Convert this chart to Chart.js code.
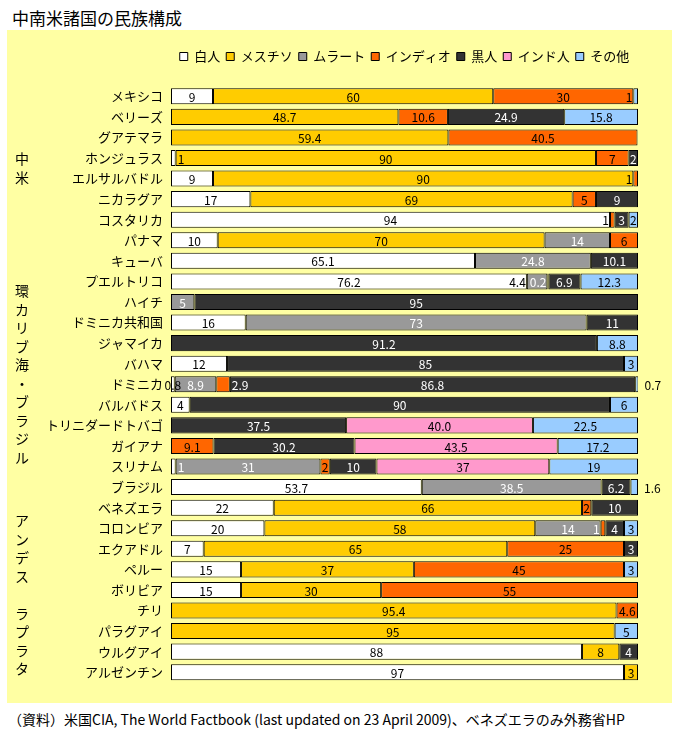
<!DOCTYPE html>
<html lang="ja">
<head>
<meta charset="utf-8">
<title>中南米諸国の民族構成</title>
<script src="https://cdn.jsdelivr.net/npm/chart.js@4.4.1/dist/chart.umd.min.js"></script>
<style>
  body { margin: 0; background: #fff; font-family: "Noto Sans CJK JP", sans-serif; color: #000; }
  #title { position: absolute; left: 12px; top: 7px; font-size: 17px; line-height: 22px; }
  #panel { position: absolute; left: 7px; top: 30px; width: 665px; height: 673px; background: #FFFFA3; }
  #note { position: absolute; left: 8px; top: 710px; font-size: 14px; line-height: 18px; }
</style>
</head>
<body>
<div id="title">中南米諸国の民族構成</div>
<div id="panel"><canvas id="chart" width="665" height="673"></canvas></div>
<div id="note">（資料）米国CIA, The World Factbook (last updated on 23 April 2009)、ベネズエラのみ外務省HP</div>
<script>
const countries = [
  'メキシコ', 'ベリーズ', 'グアテマラ', 'ホンジュラス', 'エルサルバドル', 'ニカラグア', 'コスタリカ', 'パナマ',
  'キューバ', 'プエルトリコ', 'ハイチ', 'ドミニカ共和国', 'ジャマイカ', 'バハマ', 'ドミニカ', 'バルバドス',
  'トリニダードトバゴ', 'ガイアナ', 'スリナム', 'ブラジル',
  'ベネズエラ', 'コロンビア', 'エクアドル', 'ペルー', 'ボリビア',
  'チリ', 'パラグアイ', 'ウルグアイ', 'アルゼンチン'
];

// 構成比 (%)、0は null
const white    = [9, null, null, 1, 9, 17, 94, 10, 65.1, 76.2, null, 16, null, 12, 0.8, 4, null, null, 1, 53.7, 22, 20, 7, 15, 15, null, null, 88, 97];
const mestizo  = [60, 48.7, 59.4, 90, 90, 69, null, 70, null, null, null, null, null, null, null, null, null, null, null, null, 66, 58, 65, 37, 30, 95.4, 95, 8, 3];
const mulatto  = [null, null, null, null, null, null, null, 14, 24.8, 4.4, 5, 73, null, null, 8.9, null, null, null, 31, 38.5, null, 14, null, null, null, null, null, null, null];
const indio    = [30, 10.6, 40.5, 7, 1, 5, 1, 6, null, 0.2, null, null, null, null, 2.9, null, null, 9.1, 2, null, 2, 1, 25, 45, 55, 4.6, null, null, null];
const black    = [null, 24.9, null, 2, null, 9, 3, null, 10.1, 6.9, 95, 11, 91.2, 85, 86.8, 90, 37.5, 30.2, 10, 6.2, 10, 4, 3, null, null, null, null, 4, null];
const indian   = [null, null, null, null, null, null, null, null, null, null, null, null, null, null, null, null, 40.0, 43.5, 37, null, null, null, null, null, null, null, null, null, null];
const other    = [1, 15.8, null, null, null, null, 2, null, null, 12.3, null, null, 8.8, 3, 0.7, 6, 22.5, 17.2, 19, 1.6, null, 3, null, 3, null, null, 5, null, null];

const seriesNames = ['白人', 'メスチソ', 'ムラート', 'インディオ', '黒人', 'インド人', 'その他'];
const seriesData = [white, mestizo, mulatto, indio, black, indian, other];
const seriesColors = ['#FFFFFF', '#FFCC00', '#999999', '#FF6600', '#333333', '#FF99CC', '#99CCFF'];
const labelColors = ['#000', '#000', '#fff', '#000', '#fff', '#000', '#000'];

// 左側の地域区分 [名称, 最初の行, 最後の行]
const regions = [
  ['中米', 0, 7],
  ['環カリブ海・ブラジル', 8, 19],
  ['アンデス', 20, 24],
  ['ラプラタ', 25, 28]
];

const FONT = '"Noto Sans CJK JP", sans-serif';

// 小数を含む行は全て小数1桁で表示
const decimalRow = countries.map((c, i) =>
  seriesData.some(s => s[i] != null && !Number.isInteger(s[i])));

function fmt(v, i) {
  return decimalRow[i] ? v.toFixed(1) : String(v);
}

const barLabels = {
  id: 'barLabels',
  afterDatasetsDraw(chart) {
    const ctx = chart.ctx;
    ctx.save();
    ctx.font = '12px ' + FONT;
    ctx.textBaseline = 'middle';
    const metas = chart.data.datasets.map((d, di) => chart.getDatasetMeta(di));
    countries.forEach((c, i) => {
      const present = seriesData.map((s, di) => di).filter(di => seriesData[di][i] != null);
      const segs = present.map(di => {
        const p = metas[di].data[i].getProps(['x', 'y', 'base'], true);
        const text = fmt(seriesData[di][i], i);
        const tw = ctx.measureText(text).width;
        return { di, p, text, tw, w: p.x - p.base, fits: (p.x - p.base) >= tw * 1.25 };
      });
      segs.forEach((s, k) => {
        let tx, align = 'center', color = labelColors[s.di];
        const prev = segs[k - 1], next = segs[k + 1];
        if (s.fits) {
          tx = (s.p.x + s.p.base) / 2;
        } else if (!next && decimalRow[i]) {
          tx = s.p.x + 6; align = 'left'; color = '#000';
        } else if (!prev) {
          if (decimalRow[i]) { tx = (s.p.x + s.p.base) / 2; color = '#000'; }
          else { tx = s.p.x + 2; align = 'left'; color = labelColors[next.di]; }
        } else {
          const room = prev.fits ? (prev.w - prev.tw) / 2 : prev.w;
          if (room >= s.tw || !next) {
            tx = s.p.base - 1; align = 'right'; color = labelColors[prev.di];
          } else {
            tx = s.p.x + 2; align = 'left'; color = labelColors[next.di];
          }
        }
        ctx.textAlign = align;
        ctx.fillStyle = color;
        ctx.fillText(s.text, tx, s.p.y + 1);
      });
    });
    ctx.restore();
  }
};

const regionLabels = {
  id: 'regionLabels',
  afterDraw(chart) {
    const ctx = chart.ctx;
    const y = chart.scales.y;
    ctx.save();
    ctx.font = '14px ' + FONT;
    ctx.fillStyle = '#000';
    ctx.textAlign = 'center';
    ctx.textBaseline = 'middle';
    const step = 18.5;
    regions.forEach(([name, a, b]) => {
      const mid = (y.getPixelForValue(a) + y.getPixelForValue(b)) / 2;
      const chars = Array.from(name);
      const top = mid - (chars.length - 1) * step / 2;
      chars.forEach((ch, j) => ctx.fillText(ch, 15, top + j * step));
    });
    ctx.restore();
  }
};

new Chart(document.getElementById('chart'), {
  type: 'bar',
  data: {
    labels: countries,
    datasets: seriesNames.map((name, di) => ({
      label: name,
      data: seriesData[di],
      backgroundColor: seriesColors[di],
      borderColor: '#000',
      borderWidth: 1,
      borderSkipped: false,
      barPercentage: 0.78,
      categoryPercentage: 1
    }))
  },
  options: {
    indexAxis: 'y',
    responsive: false,
    animation: false,
    layout: { padding: { top: 14, right: 34, bottom: 20.5, left: 0 } },
    scales: {
      x: {
        stacked: true, min: 0, max: 100, position: 'top',
        ticks: { display: false },
        grid: { display: false, drawTicks: false },
        border: { display: false },
        afterFit(s) { s.height = 13; }
      },
      y: {
        stacked: true,
        ticks: { color: '#000', font: { family: FONT, size: 13 }, padding: 8, autoSkip: false },
        grid: { display: false, drawTicks: false },
        border: { display: false },
        afterFit(s) { s.width = 164; }
      }
    },
    plugins: {
      legend: {
        position: 'top',
        fullSize: false,
        labels: {
          boxWidth: 8, boxHeight: 8, padding: 6,
          color: '#000',
          font: { family: FONT, size: 13 }
        }
      },
      tooltip: { enabled: false }
    }
  },
  plugins: [barLabels, regionLabels]
});
</script>
</body>
</html>
